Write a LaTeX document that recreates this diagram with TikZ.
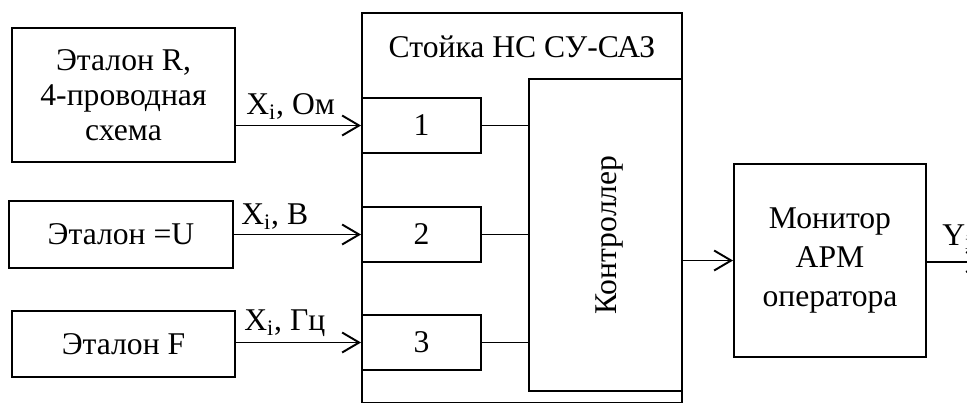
\documentclass[tikz,border=0pt]{standalone}
\usepackage{fontspec}
\setmainfont{Liberation Serif}
\usetikzlibrary{arrows.meta, positioning}

\begin{document}
\begin{tikzpicture}[
  refbox/.style={rectangle, draw=black, fill=white, line width=1.1pt,
    align=center, inner sep=0pt, font=\fontsize{18}{20}\selectfont},
  modbox/.style={rectangle, draw=black, fill=white, line width=1.1pt,
    minimum width=2.38cm, minimum height=1.10cm, inner sep=0pt,
    font=\fontsize{18}{20}\selectfont},
  lbl/.style={anchor=base west, inner sep=0pt, font=\fontsize{18}{20}\selectfont},
  arr/.style={-{Straight Barb[length=3.4mm, width=4mm]}, line width=1.1pt},
  wire/.style={line width=1.1pt}
]
  \useasboundingbox (0,0) rectangle (19.34,-8.04);

  % etalons
  \node[refbox, minimum width=4.46cm, minimum height=2.68cm] (refR) at (2.47,-1.90)
    {Эталон R,\\4-проводная\\схема};
  \node[refbox, minimum width=4.48cm, minimum height=1.34cm] (refU) at (2.42,-4.69) {Эталон =U};
  \node[refbox, minimum width=4.46cm, minimum height=1.32cm] (refF) at (2.47,-6.88) {Эталон F};

  % stand
  \node[refbox, minimum width=6.40cm, minimum height=7.80cm] (stand) at (10.44,-4.16) {};
  \node[font=\fontsize{18}{20}\selectfont] (title) at (10.44,-0.94) {Стойка НС СУ-САЗ};
  \node[modbox] (mod1) at (8.43,-2.51) {1};
  \node[modbox] (mod2) at (8.43,-4.69) {2};
  \node[modbox] (mod3) at (8.43,-6.85) {3};
  \node[refbox, minimum width=3.06cm, minimum height=6.24cm] (ctrl) at (12.11,-4.70) {};
  \node[rotate=90, font=\fontsize{18}{20}\selectfont] (ctrltxt) at (12.20,-4.70) {Контроллер};

  % monitor
  \node[refbox, minimum width=3.84cm, minimum height=3.86cm,
    font=\fontsize{18}{22}\selectfont] (mon) at (16.60,-5.21) {Монитор\\АРМ\\оператора};
  \coordinate (out) at (19.70,-5.24);

  \draw[arr] (mod1.west -| refR.east) -- (mod1.west);
  \node[lbl] (lblR) at ([shift={(0.20,0.22)}]mod1.west -| refR.east) {X\textsubscript{i}, Ом};
  \draw[arr] (mod2.west -| refU.east) -- (mod2.west);
  \node[lbl] (lblU) at ([shift={(0.14,0.20)}]mod2.west -| refU.east) {X\textsubscript{i}, В};
  \draw[arr] (mod3.west -| refF.east) -- (mod3.west);
  \node[lbl] (lblF) at ([shift={(0.16,0.24)}]mod3.west -| refF.east) {X\textsubscript{i}, Гц};

  \draw[wire] (mod1.east) -- (mod1.east -| ctrl.west);
  \draw[wire] (mod2.east) -- (mod2.east -| ctrl.west);
  \draw[wire] (mod3.east) -- (mod3.east -| ctrl.west);

  \draw[arr] (ctrl.east |- mon.west) -- (mon.west);
  \draw[arr] (mon.east |- out) -- (out);
  \node[lbl] (lblY) at ([shift={(0.30,0.34)}]mon.east |- out) {Y\textsubscript{i}};
\end{tikzpicture}
\end{document}
